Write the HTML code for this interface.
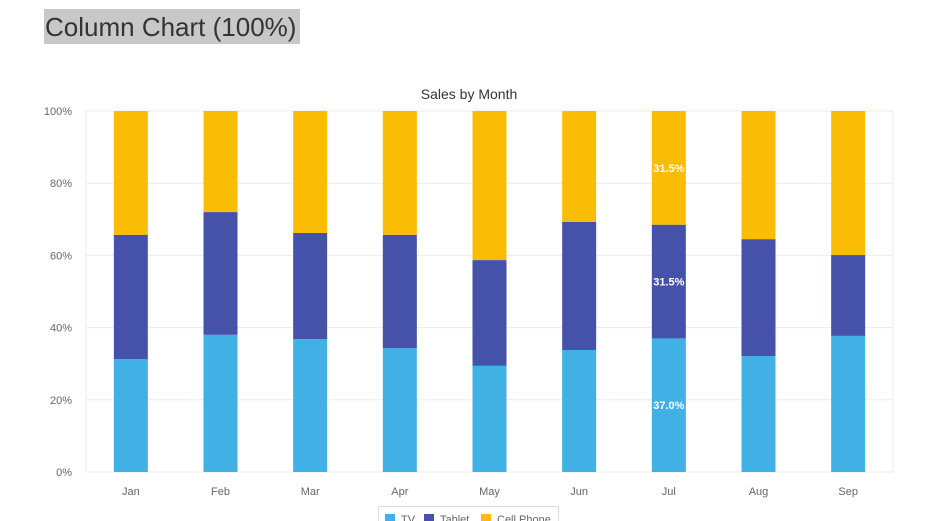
<!DOCTYPE html>
<html><head><meta charset="utf-8"><style>
body{margin:0;width:951px;height:521px;overflow:hidden;background:#fff;font-family:"Liberation Sans",sans-serif;}
#title{position:absolute;left:44px;top:9px;width:256px;height:35px;background:#c8c8c8;color:#333;font-size:26px;line-height:36px;padding-left:1px;box-sizing:border-box;white-space:nowrap;}
svg{position:absolute;left:0;top:0;}
</style></head><body>
<div id="title">Column Chart (100%)</div>
<svg id="chart" width="951" height="521"></svg>
<script>
const categories=["Jan","Feb","Mar","Apr","May","Jun","Jul","Aug","Sep"];
const tvValues=[31.3,38.0,36.8,34.3,29.4,33.8,37.0,32.1,37.7];
const tabletValues=[34.4,34.0,29.4,31.4,29.3,35.5,31.5,32.4,22.4];
const phoneValues=[34.3,28.0,33.8,34.3,41.3,30.7,31.5,35.5,39.9];
const yTicks=[0,20,40,60,80,100];
const seriesNames=["TV","Tablet","Cell Phone"];
const colors=["#41b0e4","#4652a9","#fbbc05"];
const NS="http://www.w3.org/2000/svg";
const svg=document.getElementById('chart');
const L=86,R=893,T=111,B=472;
const bw=(R-L)/categories.length;
function x(i){return L+bw*i+bw/2;}
function y(p){return B-(B-T)*p/100;}
function mk(t,a,txt){const e=document.createElementNS(NS,t);for(const k in a)e.setAttribute(k,a[k]);if(txt!==undefined)e.textContent=txt;svg.appendChild(e);return e;}
let e=mk('text',{x:469,y:99,'text-anchor':'middle','font-size':14,fill:'#333'},'Sales by Month');


yTicks.forEach(v=>{
 let g=mk('line',{x1:L,x2:R,y1:y(v),y2:y(v),stroke:'#ebebeb'});
 
 
 let t=mk('text',{x:72,y:y(v)+4,'text-anchor':'end','font-size':11,fill:'#666'},v+'%');
 
 
});
let v1=mk('line',{x1:L,x2:L,y1:T,y2:B,stroke:'#ebebeb'});


let v2=mk('line',{x1:R,x2:R,y1:T,y2:B,stroke:'#ebebeb'});


const series=[tvValues,tabletValues,phoneValues];
const barW=34;
categories.forEach((c,i)=>{
 const tot=tvValues[i]+tabletValues[i]+phoneValues[i];
 let acc=0;
 series.forEach((s,k)=>{
  const p0=acc/tot*100;acc+=s[i];const p1=acc/tot*100;
  let r=mk('rect',{x:x(i)-barW/2,y:y(p1),width:barW,height:y(p0)-y(p1),fill:colors[k]});
  
  
  if(c==="Jul"){
   let lt=mk('text',{x:x(i),y:(y(p0)+y(p1))/2+4,'text-anchor':'middle','font-size':11,'font-weight':'bold',fill:'#fff'},(s[i]/tot*100).toFixed(1)+'%');
   
   
  }
 });
 let t=mk('text',{x:x(i),y:495,'text-anchor':'middle','font-size':11,fill:'#666'},c);
 
 
});
let lb=mk('rect',{x:378.5,y:506.5,width:180,height:20,fill:'#fff',stroke:'#ddd'});


const lx=[385,424,481];
seriesNames.forEach((n,k)=>{
 let s=mk('rect',{x:lx[k],y:514,width:10,height:10,fill:colors[k]});
 
 
 let t=mk('text',{x:lx[k]+16,y:523,'font-size':11,fill:'#666'},n);
 
 
});
</script>
</body></html>
